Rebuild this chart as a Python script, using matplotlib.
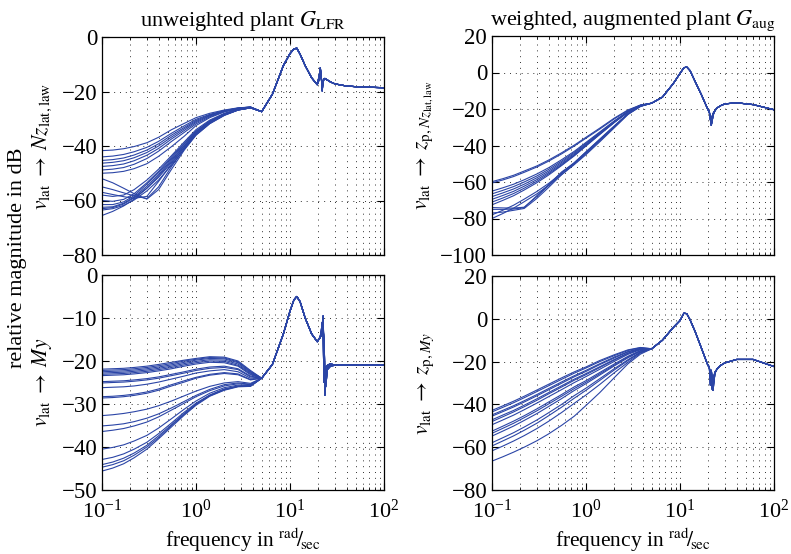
import numpy as np
import matplotlib
matplotlib.use("Agg")
import matplotlib.pyplot as plt

plt.rcParams['font.family'] = 'serif'
plt.rcParams['font.serif'] = ['Liberation Serif', 'DejaVu Serif']
plt.rcParams['mathtext.fontset'] = 'stix'

# frequency grid (rad/sec): low-frequency part differs per curve, high part is shared
freq_head = [0.1, 0.13, 0.17, 0.22, 0.3, 0.4, 0.55, 0.75, 1.0, 1.4, 2.0, 2.8, 3.8]
freq_tail = [5.0, 6.5, 8.5, 10.0, 11.0, 11.8, 12.8, 14.5, 17.0, 19.5, 20.5, 21.0,
             21.5, 22.0, 22.5, 23.0, 23.5, 24.0, 25.0, 27.0, 30.0, 40.0, 60.0, 100.0]

# v_lat -> Nz_lat,law (unweighted)
nz_heads = [
    [-41.7, -41.5, -41.0, -40.2, -38.8, -36.8, -34.0, -31.7, -29.6, -28.0, -26.8, -26.0, -25.7],
    [-44.0, -43.7, -43.1, -42.1, -40.5, -38.3, -35.3, -32.6, -30.2, -28.4, -27.0, -26.1, -25.7],
    [-45.3, -45.0, -44.4, -43.3, -41.5, -39.2, -36.0, -33.2, -30.6, -28.6, -27.1, -26.1, -25.7],
    [-46.3, -46.0, -45.4, -44.3, -42.4, -40.0, -36.7, -33.7, -31.0, -28.8, -27.2, -26.2, -25.7],
    [-47.5, -47.2, -46.6, -45.4, -43.4, -40.9, -37.4, -34.3, -31.4, -29.0, -27.3, -26.2, -25.8],
    [-48.8, -48.5, -47.9, -46.7, -44.6, -41.9, -38.3, -35.0, -31.9, -29.3, -27.4, -26.3, -25.8],
    [-50.0, -49.8, -49.3, -48.3, -46.5, -43.8, -40.2, -36.4, -32.5, -29.6, -27.5, -26.3, -25.8],
    [-58.0, -58.5, -58.0, -56.0, -52.5, -48.5, -43.5, -38.5, -34.0, -30.5, -28.0, -26.5, -25.9],
    [-60.0, -60.3, -59.6, -57.5, -53.5, -49.3, -44.0, -39.0, -34.5, -30.8, -28.2, -26.6, -25.9],
    [-61.5, -61.5, -60.5, -58.2, -54.0, -49.8, -44.5, -39.3, -34.7, -31.0, -28.3, -26.6, -25.9],
    [-62.5, -62.3, -61.0, -58.7, -54.8, -50.5, -45.0, -39.8, -35.0, -31.1, -28.4, -26.7, -26.0],
    [-63.0, -62.6, -61.3, -59.0, -55.5, -51.5, -46.0, -40.5, -35.5, -31.5, -28.6, -26.8, -26.0],
    [-63.5, -63.0, -61.8, -59.8, -56.5, -52.5, -47.0, -41.2, -36.0, -31.8, -28.8, -26.8, -26.0],
    [-65.5, -64.0, -62.0, -59.5, -55.5, -51.0, -45.5, -40.0, -35.2, -31.3, -28.5, -26.7, -26.0],
    [-55.0, -56.0, -57.2, -58.3, -59.3, -55.0, -47.5, -41.0, -35.6, -31.5, -28.6, -26.8, -26.0],
    [-57.0, -57.8, -58.6, -59.2, -58.5, -53.0, -46.5, -40.5, -35.3, -31.3, -28.5, -26.7, -26.0],
    [-52.0, -53.5, -55.5, -57.5, -59.5, -56.0, -48.5, -41.5, -36.0, -31.8, -28.7, -26.8, -26.0],
]
nz_tails = [
    [-27.4, -21.0, -10.5, -6.1, -4.4, -4.1, -6.3, -10.5, -15.0, -17.5, -14.0, -11.3,
     -14.0, -19.8, -16.5, -15.5, -15.3, -15.4, -15.8, -16.5, -17.2, -18.0, -18.4, -18.6],
    [-27.4, -21.0, -10.5, -6.1, -4.4, -4.1, -6.3, -10.5, -15.0, -17.5, -15.5, -12.8,
     -15.0, -18.5, -16.0, -15.3, -15.2, -15.4, -15.8, -16.5, -17.2, -18.0, -18.4, -18.6],
]

# v_lat -> z_p,Nz (weighted, augmented)
znz_heads = [
    [-59.8, -58.2, -56.3, -54.0, -51.2, -48.0, -44.0, -39.8, -35.5, -30.5, -25.0, -20.5, -17.8],
    [-60.5, -58.9, -57.0, -54.7, -51.8, -48.6, -44.6, -40.3, -36.0, -31.0, -25.4, -20.8, -17.9],
    [-65.0, -63.2, -61.2, -58.8, -55.6, -52.2, -47.8, -43.2, -38.3, -32.6, -26.5, -21.3, -18.0],
    [-66.5, -64.6, -62.5, -60.0, -56.7, -53.1, -48.6, -43.8, -38.8, -33.0, -26.8, -21.4, -18.0],
    [-68.0, -66.0, -63.8, -61.2, -57.7, -54.0, -49.3, -44.4, -39.3, -33.3, -27.0, -21.5, -18.1],
    [-69.5, -67.4, -65.1, -62.3, -58.7, -54.8, -50.0, -45.0, -39.7, -33.6, -27.2, -21.6, -18.1],
    [-71.0, -68.8, -66.3, -63.4, -59.6, -55.5, -50.6, -45.4, -40.0, -33.8, -27.3, -21.7, -18.1],
    [-72.5, -70.1, -67.5, -64.4, -60.4, -56.2, -51.0, -45.7, -40.3, -34.0, -27.4, -21.7, -18.2],
    [-78.0, -75.5, -72.7, -69.4, -65.2, -60.8, -55.2, -49.4, -43.5, -36.5, -29.2, -22.5, -18.4],
    [-80.0, -77.3, -74.3, -70.8, -66.5, -61.8, -56.0, -50.0, -44.0, -37.0, -29.5, -22.6, -18.5],
    [-74.0, -74.2, -74.3, -73.8, -68.0, -62.0, -55.0, -50.0, -44.5, -37.5, -30.0, -22.8, -18.5],
    [-75.0, -75.0, -74.8, -74.0, -67.5, -61.5, -54.5, -49.5, -43.5, -36.8, -29.5, -22.6, -18.4],
    [-77.0, -76.5, -75.5, -74.5, -69.0, -63.0, -56.0, -50.5, -45.0, -38.0, -30.3, -23.0, -18.6],
]
znz_tails = [
    [-16.8, -13.5, -6.0, -0.5, 2.6, 3.0, 1.0, -5.0, -12.5, -19.5, -22.0, -24.0,
     -29.0, -26.5, -23.5, -22.0, -21.0, -20.3, -19.3, -18.2, -17.2, -16.6, -17.6, -20.4],
    [-16.8, -13.5, -6.0, -0.5, 2.6, 3.0, 1.0, -5.0, -12.5, -19.5, -21.0, -26.0,
     -25.0, -24.0, -22.5, -21.5, -21.0, -20.3, -19.3, -18.2, -17.2, -16.6, -17.6, -20.4],
]

# v_lat -> My (unweighted)
my_heads = [
    [-21.9, -21.8, -21.7, -21.5, -21.2, -20.8, -20.3, -19.8, -19.4, -19.0, -19.1, -20.0, -22.2],
    [-22.2, -22.1, -22.0, -21.8, -21.5, -21.1, -20.6, -20.0, -19.6, -19.2, -19.3, -20.2, -22.4],
    [-22.5, -22.4, -22.3, -22.1, -21.8, -21.4, -20.9, -20.3, -19.8, -19.4, -19.5, -20.4, -22.6],
    [-22.8, -22.7, -22.6, -22.4, -22.1, -21.7, -21.2, -20.6, -20.1, -19.7, -19.8, -20.7, -22.8],
    [-23.1, -23.0, -22.9, -22.7, -22.4, -22.0, -21.5, -20.9, -20.4, -20.0, -20.1, -21.0, -23.0],
    [-23.4, -23.3, -23.2, -23.0, -22.7, -22.3, -21.8, -21.2, -20.7, -20.3, -20.4, -21.2, -23.2],
    [-24.8, -24.7, -24.6, -24.4, -24.1, -23.7, -23.1, -22.5, -21.9, -21.4, -21.2, -21.8, -23.5],
    [-25.1, -25.0, -24.9, -24.7, -24.4, -24.0, -23.4, -22.8, -22.2, -21.7, -21.5, -22.0, -23.7],
    [-26.2, -26.1, -26.0, -25.8, -25.4, -24.9, -24.2, -23.5, -22.8, -22.3, -22.0, -22.5, -24.0],
    [-28.3, -28.2, -28.0, -27.7, -27.2, -26.5, -25.5, -24.6, -23.8, -23.1, -22.7, -23.0, -24.3],
    [-28.6, -28.5, -28.3, -28.0, -27.5, -26.8, -25.8, -24.9, -24.0, -23.3, -22.9, -23.2, -24.4],
    [-32.7, -32.5, -32.2, -31.8, -31.2, -30.4, -29.3, -28.1, -27.0, -25.9, -25.1, -24.8, -25.2],
    [-35.1, -34.9, -34.6, -34.1, -33.3, -32.3, -30.9, -29.4, -28.0, -26.6, -25.5, -25.1, -25.4],
    [-36.4, -36.1, -35.7, -35.1, -34.2, -33.0, -31.4, -29.8, -28.3, -26.9, -25.8, -25.3, -25.5],
    [-40.5, -40.1, -39.5, -38.6, -37.3, -35.6, -33.4, -31.2, -29.3, -27.5, -26.2, -25.6, -25.7],
    [-42.9, -42.4, -41.6, -40.5, -38.9, -36.9, -34.4, -31.9, -29.8, -27.9, -26.5, -25.8, -25.8],
    [-44.1, -43.5, -42.6, -41.4, -39.6, -37.4, -34.8, -32.2, -30.0, -28.0, -26.6, -25.9, -25.8],
    [-44.7, -44.1, -43.2, -41.9, -40.0, -37.8, -35.0, -32.4, -30.1, -28.1, -26.7, -25.9, -25.8],
    [-45.6, -44.9, -43.9, -42.5, -40.5, -38.1, -35.3, -32.6, -30.3, -28.2, -26.8, -26.0, -25.9],
]
my_tails = [
    [-24.0, -20.8, -13.7, -8.4, -5.8, -5.0, -6.2, -10.0, -13.7, -15.5, -14.8, -14.5,
     -14.0, -13.0, -9.5, -18.0, -28.0, -23.0, -21.5, -20.8, -21.0, -21.0, -21.0, -21.0],
    [-24.0, -20.8, -13.7, -8.4, -5.8, -5.0, -6.2, -10.0, -13.7, -15.5, -14.8, -14.2,
     -13.0, -11.0, -14.0, -25.0, -22.0, -21.5, -21.0, -20.6, -21.0, -21.0, -21.0, -21.0],
    [-24.0, -20.8, -13.7, -8.4, -5.8, -5.0, -6.2, -10.0, -13.7, -15.5, -14.8, -14.5,
     -14.0, -13.5, -12.5, -15.0, -22.0, -26.0, -22.0, -21.2, -21.0, -21.0, -21.0, -21.0],
]

# v_lat -> z_p,My (weighted, augmented)
zmy_heads = [
    [-42.8, -40.7, -38.5, -36.2, -33.3, -30.6, -27.6, -24.8, -22.5, -19.5, -16.8, -14.5, -13.4],
    [-43.5, -41.4, -39.2, -36.9, -34.0, -31.3, -28.3, -25.4, -23.0, -20.0, -17.2, -14.8, -13.5],
    [-44.9, -42.8, -40.6, -38.3, -35.4, -32.6, -29.5, -26.6, -24.1, -21.0, -17.9, -15.3, -13.8],
    [-45.5, -43.4, -41.2, -38.9, -36.0, -33.2, -30.1, -27.1, -24.6, -21.4, -18.3, -15.5, -13.9],
    [-47.2, -45.0, -42.8, -40.4, -37.4, -34.5, -31.3, -28.2, -25.6, -22.4, -19.0, -16.0, -14.1],
    [-48.0, -45.8, -43.5, -41.1, -38.1, -35.1, -31.9, -28.7, -26.1, -22.8, -19.3, -16.2, -14.2],
    [-49.5, -47.3, -45.0, -42.5, -39.4, -36.4, -33.1, -29.8, -27.0, -23.6, -19.9, -16.6, -14.4],
    [-52.5, -50.2, -47.8, -45.3, -42.1, -38.9, -35.4, -31.8, -28.9, -25.1, -21.1, -17.5, -14.8],
    [-53.5, -51.2, -48.8, -46.2, -43.0, -39.8, -36.2, -32.6, -29.6, -25.7, -21.6, -17.8, -15.0],
    [-54.8, -52.5, -50.1, -47.5, -44.3, -41.0, -37.3, -33.5, -30.3, -26.3, -22.0, -18.2, -15.1],
    [-57.9, -55.6, -53.2, -50.6, -47.3, -43.9, -40.0, -35.9, -32.4, -28.0, -23.3, -19.1, -15.5],
    [-59.4, -57.1, -54.7, -52.1, -48.8, -45.3, -41.3, -37.1, -33.4, -28.8, -23.9, -19.5, -15.7],
    [-61.7, -59.5, -57.1, -54.6, -51.3, -47.9, -43.8, -39.5, -35.6, -30.7, -25.2, -20.3, -16.0],
    [-66.5, -64.5, -62.3, -60.0, -57.0, -53.8, -49.8, -45.5, -40.5, -34.5, -27.5, -21.0, -16.5],
]
zmy_tails = [
    [-14.0, -10.0, -4.0, -0.8, 2.6, 2.4, -0.5, -6.0, -14.0, -21.0, -23.0, -25.5,
     -30.0, -33.0, -33.5, -29.0, -26.0, -24.5, -23.2, -21.8, -20.6, -19.0, -19.0, -22.3],
    [-14.0, -10.0, -4.0, -0.8, 2.6, 2.4, -0.5, -6.0, -14.0, -21.0, -22.5, -31.0,
     -24.0, -27.0, -32.0, -27.5, -25.0, -24.5, -23.2, -21.8, -20.6, -19.0, -19.0, -22.3],
    [-14.0, -10.0, -4.0, -0.8, 2.6, 2.4, -0.5, -6.0, -14.0, -21.0, -23.0, -24.5,
     -28.0, -32.0, -30.0, -26.5, -25.0, -24.5, -23.2, -21.8, -20.6, -19.0, -19.0, -22.3],
]

line_color = '#2b45a6'
W, H = 791, 554

fig = plt.figure(figsize=(W / 100, H / 100), dpi=100)


def make_axes(x0, y0, x1, y1):
    # pixel box (top-left origin) -> figure fraction
    return fig.add_axes([x0 / W, 1 - y1 / H, (x1 - x0) / W, (y1 - y0) / H])


ax_nz = make_axes(102, 37, 384, 255)
ax_znz = make_axes(492, 36, 774, 255)
ax_my = make_axes(102, 275, 384, 490)
ax_zmy = make_axes(492, 276, 774, 490)

panels = [
    (ax_nz, nz_heads, nz_tails, (-80, 0), np.arange(-80, 1, 20),
     r'$v_{\rm lat}\;\rightarrow\;Nz_{\rm lat,law}$'),
    (ax_znz, znz_heads, znz_tails, (-100, 20), np.arange(-100, 21, 20),
     r'$v_{\rm lat}\;\rightarrow\;z_{{\rm p},Nz_{\rm lat,law}}$'),
    (ax_my, my_heads, my_tails, (-50, 0), np.arange(-50, 1, 10),
     r'$v_{\rm lat}\;\rightarrow\;My$'),
    (ax_zmy, zmy_heads, zmy_tails, (-80, 20), np.arange(-80, 21, 20),
     r'$v_{\rm lat}\;\rightarrow\;z_{{\rm p},My}$'),
]

freq = freq_head + freq_tail
for ax, heads, tails, ylim, yticks, ylab in panels:
    for i, head in enumerate(heads):
        mag = head + tails[i % len(tails)]
        ax.plot(freq, mag, color=line_color, lw=0.8)
    ax.set_xscale('log')
    ax.set_xlim(0.1, 100)
    ax.set_ylim(*ylim)
    ax.set_yticks(yticks)
    ax.grid(True, which='both', axis='x', linestyle=(0, (1, 5)), color='0.2', lw=0.7)
    ax.grid(True, which='major', axis='y', linestyle=(0, (1, 5)), color='0.2', lw=0.7)
    ax.tick_params(which='both', direction='in', top=True, right=True)
    ax.tick_params(axis='y', labelsize=16.5)
    ax.tick_params(axis='x', labelsize=16, pad=7)
    ax.tick_params(which='major', length=5)
    ax.tick_params(which='minor', length=2.5)
    ax.set_ylabel(ylab, fontsize=15.5)
    for s in ax.spines.values():
        s.set_linewidth(0.9)

ax_nz.yaxis.set_label_coords(-0.17, 0.5)
ax_my.yaxis.set_label_coords(-0.17, 0.5)
ax_znz.yaxis.set_label_coords(-0.2, 0.5)
ax_zmy.yaxis.set_label_coords(-0.2, 0.5)

ax_nz.tick_params(labelbottom=False)
ax_znz.tick_params(labelbottom=False)

ax_nz.set_title(r'unweighted plant $G_{\rm LFR}$', fontsize=16, pad=8)
ax_znz.set_title(r'weighted, augmented plant $G_{\rm aug}$', fontsize=16, pad=8)

xlab = r'frequency in ${}^{\rm rad}\!/\!{}_{\rm sec}$'
for ax in (ax_my, ax_zmy):
    ax.set_xlabel(xlab, fontsize=15.5)
    ax.xaxis.set_label_coords(0.5, -0.165)

fig.text(0.022, 0.535, 'relative magnitude in dB', rotation=90, fontsize=16,
         ha='center', va='center')

fig.savefig('out.png', dpi=100)
